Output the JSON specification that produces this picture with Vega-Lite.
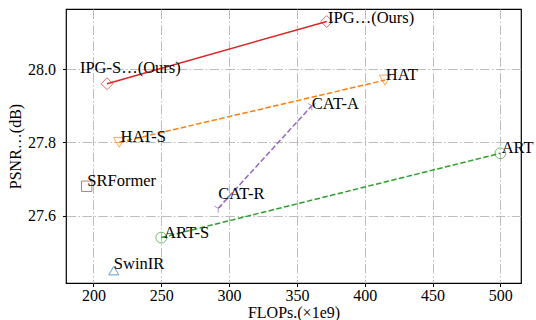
{
  "$schema": "https://vega.github.io/schema/vega-lite/v6.json",
  "autosize": "none",
  "width": 455,
  "height": 274,
  "padding": {"left": 66, "top": 9, "right": 15, "bottom": 37},
  "background": "white",
  "config": {
    "view": {"stroke": "black", "strokeWidth": 1.2},
    "font": "Liberation Serif",
    "axis": {
      "labelFont": "Liberation Serif",
      "titleFont": "Liberation Serif",
      "labelFontSize": 16,
      "titleFontSize": 16,
      "titleFontWeight": "normal",
      "labelColor": "black",
      "titleColor": "black",
      "tickColor": "black",
      "tickSize": 3.5,
      "domain": false,
      "gridColor": "#bdbdbd",
      "gridDash": [9.6, 2.4, 1.5, 2.4],
      "gridWidth": 1
    }
  },
  "data": {
    "values": [
      {"model": "IPG-S", "label": "IPG-S…(Ours)", "family": "IPG", "flops": 210, "psnr": 27.96, "label_flops": 190, "label_psnr": 27.989},
      {"model": "IPG", "label": "IPG…(Ours)", "family": "IPG", "flops": 372, "psnr": 28.13, "label_flops": 373, "label_psnr": 28.126},
      {"model": "HAT-S", "label": "HAT-S", "family": "HAT", "flops": 219, "psnr": 27.80, "label_flops": 220, "label_psnr": 27.80},
      {"model": "HAT", "label": "HAT", "family": "HAT", "flops": 415, "psnr": 27.97, "label_flops": 415.5, "label_psnr": 27.969},
      {"model": "CAT-R", "label": "CAT-R", "family": "CAT", "flops": 292, "psnr": 27.62, "label_flops": 292, "label_psnr": 27.645},
      {"model": "CAT-A", "label": "CAT-A", "family": "CAT", "flops": 361, "psnr": 27.90, "label_flops": 361, "label_psnr": 27.89},
      {"model": "ART-S", "label": "ART-S", "family": "ART", "flops": 250, "psnr": 27.54, "label_flops": 252, "label_psnr": 27.54},
      {"model": "ART", "label": "ART", "family": "ART", "flops": 500, "psnr": 27.77, "label_flops": 501, "label_psnr": 27.77},
      {"model": "SRFormer", "label": "SRFormer", "family": "SRFormer", "flops": 195, "psnr": 27.68, "label_flops": 195.5, "label_psnr": 27.68},
      {"model": "SwinIR", "label": "SwinIR", "family": "SwinIR", "flops": 215, "psnr": 27.45, "label_flops": 215, "label_psnr": 27.455}
    ]
  },
  "encoding": {
    "x": {
      "field": "flops", "type": "quantitative",
      "scale": {"domain": [179.75, 515.25], "nice": false, "zero": false},
      "axis": {"values": [200, 250, 300, 350, 400, 450, 500], "title": "FLOPs.(×1e9)", "titlePadding": 1, "labelPadding": 1}
    },
    "y": {
      "field": "psnr", "type": "quantitative",
      "scale": {"domain": [27.416, 28.164], "nice": false, "zero": false},
      "axis": {"values": [27.6, 27.8, 28.0], "format": ".1f", "title": "PSNR…(dB)", "titlePadding": 4, "labelPadding": 7}
    },
    "color": {
      "field": "family", "type": "nominal",
      "scale": {
        "domain": ["IPG", "HAT", "CAT", "ART", "SRFormer", "SwinIR"],
        "range": ["#d62728", "#ff7f0e", "#9467bd", "#2ca02c", "#8c564b", "#1f77b4"]
      },
      "legend": null
    }
  },
  "layer": [
    {
      "transform": [{"filter": "datum.family === 'IPG'"}],
      "mark": {"type": "line", "strokeWidth": 1.5},
      "encoding": {"detail": {"field": "family"}}
    },
    {
      "transform": [{"filter": "indexof(['HAT','CAT','ART'], datum.family) >= 0"}],
      "mark": {"type": "line", "strokeWidth": 1.5, "strokeDash": [5.5, 2.4]},
      "encoding": {"detail": {"field": "family"}}
    },
    {
      "mark": {"type": "point", "filled": false, "strokeWidth": 1},
      "encoding": {
        "shape": {
          "field": "family", "type": "nominal",
          "scale": {
            "domain": ["IPG", "HAT", "CAT", "ART", "SRFormer", "SwinIR"],
            "range": ["diamond", "triangle-down", "M0,0L0,0.8M0,0L-0.7,-0.4M0,0L0.7,-0.4", "circle", "square", "triangle-up"]
          },
          "legend": null
        },
        "size": {
          "field": "family", "type": "nominal",
          "scale": {
            "domain": ["IPG", "HAT", "CAT", "ART", "SRFormer", "SwinIR"],
            "range": [140, 100, 70, 85, 85, 100]
          },
          "legend": null
        }
      }
    },
    {
      "mark": {"type": "text", "align": "left", "baseline": "alphabetic", "fontSize": 16.5, "font": "Liberation Serif", "color": "black"},
      "encoding": {
        "x": {"field": "label_flops", "type": "quantitative"},
        "y": {"field": "label_psnr", "type": "quantitative"},
        "text": {"field": "label"},
        "color": {"value": "black"}
      }
    }
  ]
}
